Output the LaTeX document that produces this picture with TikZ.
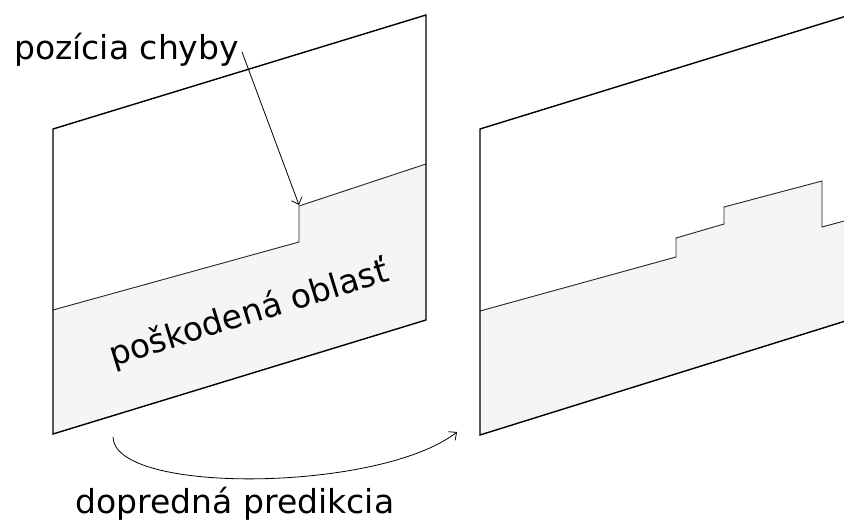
\documentclass[tikz,border=0pt]{standalone}
\usepackage{fontspec}
\setmainfont{DejaVu Sans}
\usetikzlibrary{arrows.meta}
\definecolor{damaged}{HTML}{F5F5F5}
\tikzset{
  frame/.style={draw=black, line width=1.4pt, line join=miter},
  band/.style={draw=black!85, line width=0.9pt},
  damagedfill/.style={fill=damaged, draw=none},
  pointer/.style={draw=black, line width=0.8pt, -{Straight Barb[length=6pt,width=11pt]}},
  label/.style={font=\fontsize{33}{39}\selectfont, inner sep=0pt}
}
\begin{document}
\begin{tikzpicture}[x=1pt, y=-1pt]
  \clip (0,0) rectangle (844,524);
  \fill[white] (0,0) rectangle (844,524);

  % left frame: damaged area below the error position
  \path[damagedfill] (53,310) -- (299,242) -- (299,206) -- (426,164)
        -- (426,320) -- (53,434) -- cycle;
  \draw[band] (53,310) -- (299,242) -- (299,206) -- (426,164);
  \draw[frame] (53,129) -- (426,15) -- (426,320) -- (53,434) -- cycle;

  % right frame: predicted boundary with steps
  \path[damagedfill] (480,311) -- (676,257) -- (676,238) -- (724,224)
        -- (724,207) -- (822,181) -- (822,227) -- (900,206)
        -- (900,304) -- (480,435) -- cycle;
  \draw[band] (480,311) -- (676,257) -- (676,238) -- (724,224)
        -- (724,207) -- (822,181) -- (822,227) -- (900,206);
  \draw[frame] (900,-0.5) -- (480,129) -- (480,435) -- (900,304);

  % labels
  \node[label, anchor=base west] (errpos) at (14,60) {pozícia chyby};
  \node[label, rotate=17.1] (area) at (249,314) {poškodená oblasť};
  \node[label, anchor=base] (fwd) at (235,513) {dopredná predikcia};

  % connectors
  \coordinate (errstart) at (242,52);
  \coordinate (errend) at (299,205);
  \draw[pointer] (errstart) -- (errend);

  \coordinate (fwdstart) at (113,437);
  \coordinate (fwdend) at (457,432);
  \draw[pointer] (fwdstart) .. controls (114,495) and (380,492) .. (fwdend);
\end{tikzpicture}
\end{document}
